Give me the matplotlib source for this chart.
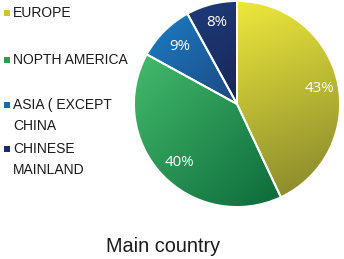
import numpy as np
import matplotlib
matplotlib.use("Agg")
import matplotlib.pyplot as plt
from matplotlib.colors import LinearSegmentedColormap

# slice data, clockwise from 12 o'clock
labels = ["EUROPE", "NOPTH AMERICA", "ASIA ( EXCEPT\nCHINA", "CHINESE\nMAINLAND"]
shares = [43, 40, 9, 8]
# gradient colours per slice: (light, dark)
grad_colors = [("#eee93c", "#84842c"), ("#44bb6c", "#0c6a3a"),
               ("#1c7ec6", "#1c4880"), ("#1e3c7a", "#172658")]
marker_colors = ["#cfc52e", "#2a9d52", "#1a6aae", "#1b2b62"]
# gradient direction (dx, dy) from light to dark
grad_dirs = [(0.2, -1.0), (0.7, -0.7), (0.7, -0.7), (0.3, -1.0)]

W, H = 344, 259
fig = plt.figure(figsize=(W / 100, H / 100), dpi=100)
ax = fig.add_axes([0, 0, 1, 1])

cx, cy, r = 237, H - 104, 103
wedges, _ = ax.pie(shares, center=(cx, cy), radius=r, startangle=90,
                   counterclock=False, explode=[0.05, 0, 0, 0],
                   wedgeprops=dict(edgecolor="white", linewidth=1.4),
                   frame=True)
ax.set_xlim(0, W)
ax.set_ylim(0, H)
ax.set_aspect("equal")
ax.axis("off")

yy, xx = np.mgrid[0:1:200j, 0:1:200j]
for w, (c0, c1), (dx, dy) in zip(wedges, grad_colors, grad_dirs):
    w.set_facecolor("none")
    bb = w.get_path().get_extents(w.get_transform()).transformed(ax.transData.inverted())
    g = (xx * dx + (1 - yy) * (-dy))
    g = (g - g.min()) / (g.max() - g.min())
    cmap = LinearSegmentedColormap.from_list("g", [c0, c1])
    im = ax.imshow(g, cmap=cmap, extent=[bb.x0, bb.x1, bb.y1, bb.y0],
                   origin="upper", zorder=0.5, interpolation="bilinear")
    im.set_clip_path(w)
    w.set_zorder(1)

# percentage labels
pct_pos = [(319, 88), (179, 163), (180, 46), (217, 22)]
for s, (px, py) in zip(shares, pct_pos):
    ax.text(px, H - py, f"{s}%", color="white", fontsize=10.8,
            family="Open Sans", ha="center", va="center", zorder=3)

# legend
leg_y = [13, 60, 105, 149]
for lab, c, y in zip(labels, marker_colors, leg_y):
    ax.add_patch(plt.Rectangle((4, H - y - 3), 6, 6, color=c, lw=0))
    ax.text(13, H - y + 7, lab, fontsize=10, family="Liberation Sans",
            color="#1a1a1a", ha="left", va="top", linespacing=1.65)

ax.text(163, H - 246, "Main country", fontsize=14.3, family="Liberation Sans",
        color="#1a1a1a", ha="center", va="center")

fig.savefig("out.png", dpi=100)
